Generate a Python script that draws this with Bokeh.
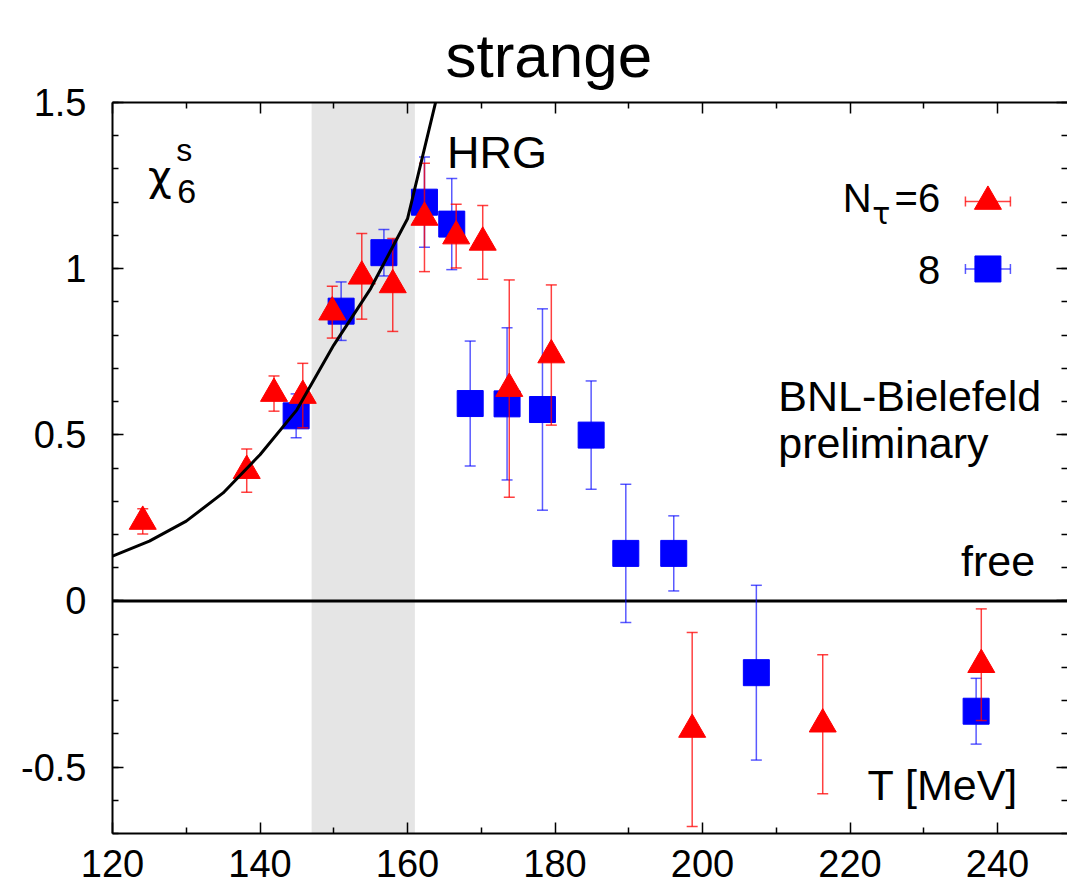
import math
from bokeh.plotting import figure
from bokeh.models import Range1d, LinearAxis, FixedTicker, Span, BoxAnnotation, Label
from bokeh.embed import file_html
from bokeh.resources import INLINE

# ---- lattice data: sixth-order strangeness fluctuation chi_6^s vs T ----
# N_tau = 6
t6 = [124.1, 138.2, 141.9, 145.8, 149.8, 153.8, 158.0, 162.3, 166.6, 170.2,
      173.8, 179.5, 198.6, 216.3, 237.8]
c6 = [0.239, 0.392, 0.624, 0.618, 0.869, 0.977, 0.951, 1.154, 1.098, 1.079,
      0.639, 0.740, -0.387, -0.371, -0.192]
e6 = [0.038, 0.065, 0.053, 0.097, 0.078, 0.129, 0.140, 0.163, 0.096, 0.111,
      0.327, 0.211, 0.292, 0.209, 0.168]

# N_tau = 8
t8 = [144.9, 151.0, 156.8, 162.3, 166.0, 168.5, 173.5, 178.3, 184.9, 189.6,
      196.1, 207.3, 237.1]
c8 = [0.557, 0.872, 1.048, 1.200, 1.134, 0.594, 0.593, 0.576, 0.499, 0.143,
      0.143, -0.216, -0.332]
e8 = [0.066, 0.088, 0.070, 0.136, 0.137, 0.188, 0.229, 0.303, 0.163, 0.208,
      0.113, 0.263, 0.099]

# hadron resonance gas curve
t_hrg = [120, 125, 130, 135, 140, 145, 150, 155, 160, 165]
c_hrg = [0.135, 0.180, 0.240, 0.325, 0.440, 0.575, 0.770, 0.940, 1.150, 1.610]

# crossover region
tc_band = [147, 161]

x_ticks = [120, 140, 160, 180, 200, 220, 240]
x_minor = [130, 150, 170, 190, 210, 230, 250]
y_ticks = [-0.5, 0, 0.5, 1, 1.5]
y_tick_labels = ["-0.5", "0", "0.5", "1", "1.5"]
y_minor = [round(-0.7 + 0.1 * i, 1) for i in range(23)]

FONT = "Liberation Sans"
GREEK = "DejaVu Sans"
RED = "#ff0000"
BLUE = "#0000ff"
PX_PER_UNIT_Y = 731 / 2.2

p = figure(width=1067, height=892,
           x_range=Range1d(120, 249.49), y_range=Range1d(-0.7, 1.5),
           output_backend="svg", toolbar_location=None,
           min_border_left=112, min_border_right=0,
           min_border_top=102, min_border_bottom=59)
p.outline_line_color = None
p.grid.visible = False
p.background_fill_color = "white"
p.border_fill_color = "white"

xt = FixedTicker(ticks=x_ticks, minor_ticks=x_minor)
yt = FixedTicker(ticks=y_ticks, minor_ticks=y_minor)


def style_axis(ax, ticker, labels=True):
    ax.ticker = ticker
    ax.axis_line_color = "black"
    ax.axis_line_width = 2
    ax.major_tick_in = 11
    ax.major_tick_out = 0
    ax.minor_tick_in = 6
    ax.minor_tick_out = 0
    ax.major_tick_line_color = "black"
    ax.minor_tick_line_color = "black"
    ax.major_tick_line_width = 1.5
    ax.minor_tick_line_width = 1.5
    ax.major_label_text_font = FONT
    if labels:
        ax.major_label_text_font_size = "38px"
        ax.major_label_text_color = "black"
    else:
        # mirrored border: ticks only
        ax.major_label_text_font_size = "1px"
        ax.major_label_text_color = None
        ax.major_label_standoff = 0


style_axis(p.xaxis[0], xt)
p.xaxis[0].major_label_standoff = 16
style_axis(p.yaxis[0], yt)
p.yaxis[0].major_label_standoff = 26
p.yaxis[0].major_label_overrides = {v: s for v, s in zip(y_ticks, y_tick_labels)}

top_axis = LinearAxis()
style_axis(top_axis, xt, labels=False)
p.add_layout(top_axis, "above")

right_axis = LinearAxis()
style_axis(right_axis, yt, labels=False)
right_axis.axis_line_color = None
p.add_layout(right_axis, "right")

p.title.text = "strange"
p.title.text_font = FONT
p.title.text_font_size = "62px"
p.title.text_font_style = "normal"
p.title.text_color = "black"
p.title.align = "left"
p.title.offset = 333
p.title.standoff = 25

# crossover band and the free-gas value
p.add_layout(BoxAnnotation(left=tc_band[0], right=tc_band[1], fill_color="#e5e5e5",
                           fill_alpha=1.0, line_color=None, level="underlay"))
p.add_layout(Span(location=0, dimension="width", line_color="black",
                  line_width=3, level="underlay"))


def error_bars(t, c, e, color, alpha):
    lo = [ci - ei for ci, ei in zip(c, e)]
    hi = [ci + ei for ci, ei in zip(c, e)]
    p.segment(x0=t, y0=lo, x1=t, y1=hi, line_color=color, line_width=1.5, line_alpha=alpha)
    p.scatter(x=t + t, y=lo + hi, marker="dash", size=11, line_color=color,
              line_width=1.5, line_alpha=alpha)


# N_tau = 8 underneath N_tau = 6
error_bars(t8, c8, e8, BLUE, 0.65)
p.scatter(x=t8, y=c8, marker="square", size=26, fill_color=BLUE, line_color=BLUE)
error_bars(t6, c6, e6, RED, 0.75)
p.scatter(x=t6, y=c6, marker="triangle", size=27, fill_color=RED, line_color=RED)

p.line(x=t_hrg, y=c_hrg, line_color="black", line_width=3)

# key: text on the left, sample with horizontal error bar on the right
key_t = 238.7
key_dt = 3.05
key_y = [1.202, 0.999]
for yk, color, alpha, marker, size in [(key_y[0], RED, 0.75, "triangle", 27),
                                       (key_y[1], BLUE, 0.65, "square", 26)]:
    p.segment(x0=[key_t - key_dt], y0=[yk], x1=[key_t + key_dt], y1=[yk],
              line_color=color, line_width=1.5, line_alpha=alpha)
    p.scatter(x=[key_t - key_dt, key_t + key_dt], y=[yk, yk], marker="dash",
              angle=math.pi / 2, size=10, line_color=color, line_width=1.5,
              line_alpha=alpha)
    p.scatter(x=[key_t], y=[yk], marker=marker, size=size, fill_color=color,
              line_color=color)


def text(x, y, s, size, align="left", font=FONT):
    # y is the baseline; lift to compensate for the label's own vertical padding
    px = float(size.replace("px", ""))
    p.add_layout(Label(x=x, y=y + 0.35 * px / PX_PER_UNIT_Y, text=s, text_font=font,
                       text_font_size=size, text_color="black", text_align=align,
                       text_baseline="alphabetic"))


text(219.0, 1.169, "N", "40px")
text(223.0, 1.135, "τ", "30px", font=GREEK)
text(232.22, 1.169, "=6", "40px", "right")
text(232.22, 0.953, "8", "40px", "right")

text(124.8, 1.236, "χ", "41px", font=GREEK)
text(128.77, 1.196, "6", "34px")
text(128.64, 1.3245, "s", "32px")

text(165.34, 1.303, "HRG", "45px")
text(210.27, 0.572, "BNL-Bielefeld", "43px")
text(210.27, 0.430, "preliminary", "43px")
text(245.11, 0.0753, "free", "43px", "right")
text(242.79, -0.599, "T [MeV]", "43px", "right")

open("out.html", "w").write(file_html(p, INLINE))
